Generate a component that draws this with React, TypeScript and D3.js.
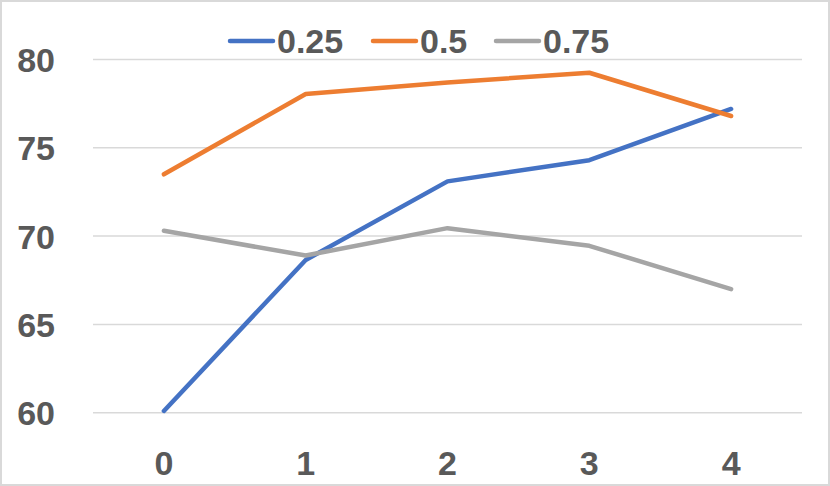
import React from "react";
import * as d3 from "d3";

const categories = ["0", "1", "2", "3", "4"];
const seriesNames = ["0.25", "0.5", "0.75"];
const values025 = [60.1, 68.65, 73.1, 74.3, 77.2];
const values05 = [73.5, 78.05, 78.7, 79.25, 76.8];
const values075 = [70.3, 68.9, 70.45, 69.45, 67.0];
const yTicks = [60, 65, 70, 75, 80];
const colors = ["#4472C4", "#ED7D31", "#A5A5A5"];

const W = 830;
const H = 486;
const FONT = "'Liberation Sans', Arial, sans-serif";
const FS = 34;

export default function App() {
  const series = [values025, values05, values075];
  const x = d3.scaleBand<string>().domain(categories).range([93, 802]);
  const y = d3.scaleLinear().domain([60, 80]).range([412.7, 59.5]);
  const line = d3
    .line<number>()
    .x((_, i) => (x(categories[i]) as number) + x.bandwidth() / 2)
    .y((d) => y(d));

  const legendItems = [
    { name: seriesNames[0], lx: 230, tx: 277 },
    { name: seriesNames[1], lx: 373, tx: 420 },
    { name: seriesNames[2], lx: 496, tx: 543 },
  ];

  return (
    <svg
      width={W}
      height={H}
      style={{ position: "absolute", left: 0, top: 0, background: "#fff" }}
      fontFamily={FONT}
    >
      <rect x={1} y={1} width={W - 2} height={H - 2} fill="#fff" stroke="#d9d9d9" strokeWidth={2} />
      {yTicks.map((t) => (
        <g key={t}>
          <line x1={93} x2={802} y1={y(t)} y2={y(t)} stroke="#d9d9d9" strokeWidth={1.5} />
          <text
            x={55}
            y={y(t) + 12.5}
            textAnchor="end"
            fontSize={FS}
            fontWeight="bold"
            fill="#595959"
          >
            {t}
          </text>
        </g>
      ))}
      {categories.map((c) => (
        <text
          key={c}
          x={(x(c) as number) + x.bandwidth() / 2}
          y={475}
          textAnchor="middle"
          fontSize={FS}
          fontWeight="bold"
          fill="#595959"
        >
          {c}
        </text>
      ))}
      {series.map((s, i) => (
        <path
          key={i}
          d={line(s) || ""}
          fill="none"
          stroke={colors[i]}
          strokeWidth={4.5}
          strokeLinejoin="round"
          strokeLinecap="round"
        />
      ))}
      {legendItems.map((it, i) => (
        <g key={it.name}>
          <line
            x1={it.lx}
            x2={it.lx + 43}
            y1={41}
            y2={41}
            stroke={colors[i]}
            strokeWidth={4.5}
            strokeLinecap="round"
          />
          <text x={it.tx} y={53} fontSize={FS} fontWeight="bold" fill="#595959">
            {it.name}
          </text>
        </g>
      ))}
    </svg>
  );
}
